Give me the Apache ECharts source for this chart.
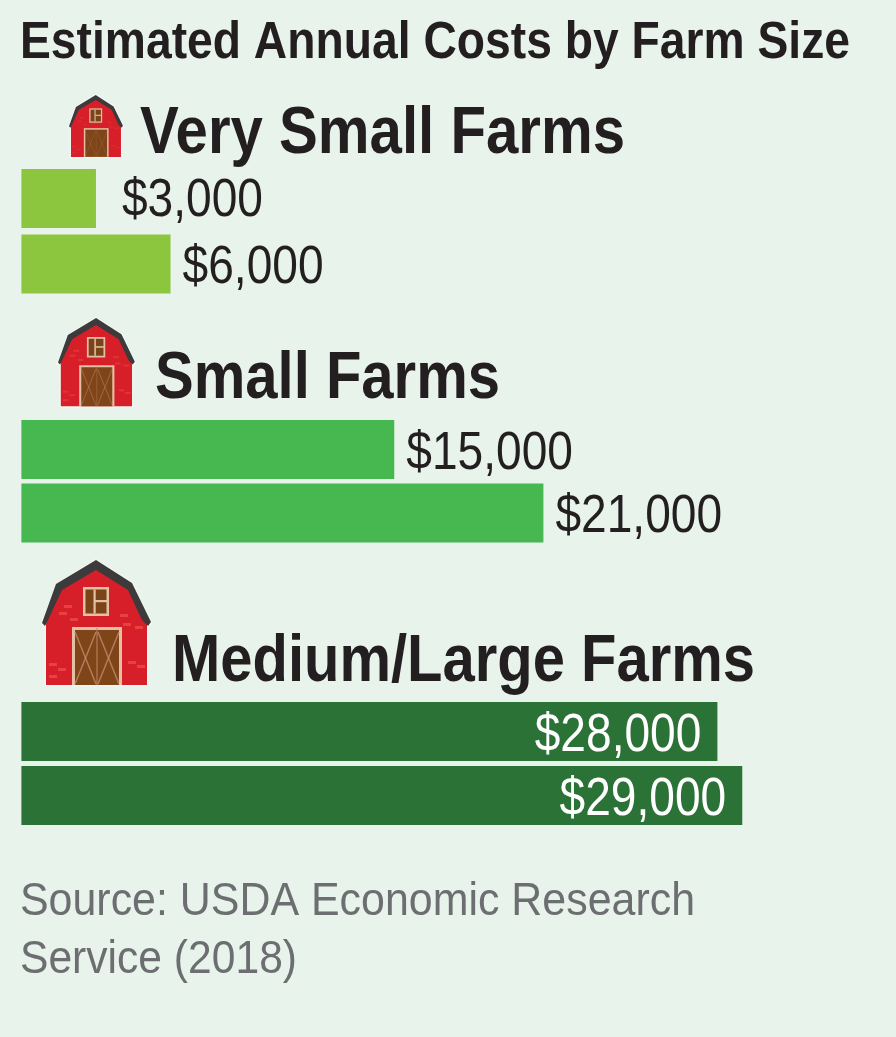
<!DOCTYPE html>
<html>
<head>
<meta charset="utf-8">
<style>html,body{margin:0;padding:0;background:#e8f3ec}#chart{width:896px;height:1037px}</style>
<script src="https://cdn.jsdelivr.net/npm/echarts@6/dist/echarts.min.js"></script>
</head>
<body>
<div id="chart"></div>
<script>
// Estimated annual cost ranges, one low/high pair per farm size
const farmSizes = ['Very Small Farms', 'Small Farms', 'Medium/Large Farms'];
const lowCosts = [3000, 15000, 28000];
const highCosts = [6000, 21000, 29000];
const barColors = ['#8cc63f', '#47b750', '#2b7236'];
const chartTitle = 'Estimated Annual Costs by Farm Size';
const sourceLines = ['Source: USDA Economic Research', 'Service (2018)'];

const FONT = '"Liberation Sans", Arial, sans-serif';
const INK = '#231f20';
const LABEL_SIZE = 53;
const LABEL_SQUEEZE = 0.87;
const money = v => '$' + v.toLocaleString('en-US');

// One plot per farm size: each bar sits centred in its own category band
const rows = [
  { top: 165.75, height: 131, inside: false },
  { top: 417.75, height: 127, inside: false },
  { top: 699.5, height: 128, inside: true }
];
const headings = [
  { x: 140, y: 135, width: 485 },
  { x: 155, y: 380, width: 345 },
  { x: 172, y: 663, width: 583 }
];
const barnPlacement = [
  { x: 69, y: 95, s: 0.495 },
  { x: 58, y: 318, s: 0.705 },
  { x: 42, y: 560, s: 1 }
];

const ruler = document.createElement('canvas').getContext('2d');
// Condensed type: a regular face squeezed sideways to fill the given width
function fittedText(text, x, y, width, size, weight, color) {
  ruler.font = weight + ' ' + size + 'px ' + FONT;
  const squeeze = width / ruler.measureText(text).width;
  return {
    type: 'text', x, y, scaleX: squeeze, silent: true, z: 10,
    style: { text, x: 0, y: 0, fill: color, font: weight + ' ' + size + 'px ' + FONT, textAlign: 'left', textVerticalAlign: 'middle' }
  };
}

// Barn icon drawn in a 109 x 125 box, then scaled into place
function barn(p) {
  const detail = p.s < 0.6 ? 0.25 : (p.s < 0.9 ? 0.45 : 0.8);
  const shape = (type, s, style) => ({ type, shape: s, style, silent: true });
  const poly = (points, fill) => shape('polygon', { points }, { fill });
  const line = (x1, y1, x2, y2, w) => shape('line', { x1, y1, x2, y2 }, { stroke: '#c08a6a', lineWidth: w, opacity: detail });
  const brick = (x, y) => shape('rect', { x, y, width: 8, height: 3 }, { fill: '#ee4a45', opacity: detail });
  const outline = [[0, 64], [15, 25], [54, 0], [90, 23], [109, 64], [105, 66], [105, 125], [4, 125], [4, 66]];
  const bricks = [[22, 45], [17, 52], [28, 58], [78, 54], [81, 63], [93, 66], [7, 103], [16, 108], [7, 115], [86, 101], [95, 105]];
  return {
    type: 'group', x: p.x, y: p.y, scaleX: p.s, scaleY: p.s, silent: true,
    children: [
      shape('polygon', { points: outline }, { fill: '#f3f8f5', stroke: '#f3f8f5', lineWidth: 2.5 / p.s, lineJoin: 'round' }),
      poly([[4, 60], [15, 28], [54, 6], [90, 28], [105, 60], [105, 125], [4, 125]], '#d71f2a'),
      poly([[0, 63], [14, 24], [54, 0], [90, 23], [109, 62], [106, 66], [100, 60], [86, 30], [54, 10], [20, 30], [6, 60], [3, 66]], '#3d3a3b'),
      ...bricks.map(b => brick(b[0], b[1])),
      shape('rect', { x: 41, y: 27, width: 26, height: 29 }, { fill: '#e3c0a4' }),
      shape('rect', { x: 43.5, y: 29.5, width: 21, height: 24 }, { fill: '#7a4418' }),
      shape('rect', { x: 51.5, y: 29.5, width: 2.2, height: 24 }, { fill: '#e3c0a4' }),
      shape('rect', { x: 53, y: 40, width: 12, height: 2.2 }, { fill: '#e3c0a4' }),
      shape('rect', { x: 30, y: 67, width: 50, height: 58 }, { fill: '#e3c0a4' }),
      shape('rect', { x: 33, y: 70, width: 44, height: 55 }, { fill: '#7f4519' }),
      line(33, 72, 54, 124, 1.5), line(54, 72, 33, 124, 1.5), line(56, 72, 77, 124, 1.5), line(77, 72, 56, 124, 1.5),
      line(55, 68, 55, 125, 1.2)
    ]
  };
}

const grids = rows.map(r => ({ left: 21.4, width: 870, top: r.top, height: r.height }));
const xAxes = rows.map((r, i) => ({ type: 'value', gridIndex: i, min: 0, max: 35000, show: false }));
const yAxes = rows.map((r, i) => ({
  type: 'category', gridIndex: i, inverse: true, show: false,
  data: [farmSizes[i] + ' low', farmSizes[i] + ' high']
}));

const barSeries = rows.map((r, i) => ({
  type: 'bar', name: farmSizes[i], xAxisIndex: i, yAxisIndex: i,
  barWidth: 59, silent: true,
  itemStyle: { color: barColors[i] },
  data: [lowCosts[i], highCosts[i]]
}));

// Value labels follow the bar ends through the axes and use the same squeezed type
const labelSeries = rows.map((r, i) => ({
  type: 'custom', xAxisIndex: i, yAxisIndex: i, silent: true, z: 5,
  encode: { x: 0, y: 1 },
  data: [[lowCosts[i], 0], [highCosts[i], 1]],
  renderItem: (params, api) => {
    const v = api.value(0);
    const end = api.coord([v, api.value(1)]);
    // the narrowest bar carries its label further out
    const narrow = v < 5000;
    const dx = r.inside ? -16 : (narrow ? 26 : 12);
    const dy = narrow ? 3 : 4.5;
    return {
      type: 'text', x: end[0] + dx, y: end[1] + dy, scaleX: LABEL_SQUEEZE, silent: true,
      style: {
        text: money(v), x: 0, y: 0, fill: r.inside ? '#ffffff' : INK,
        font: 'normal ' + LABEL_SIZE + 'px ' + FONT,
        textAlign: r.inside ? 'right' : 'left', textVerticalAlign: 'middle'
      }
    };
  }
}));

const chart = echarts.init(document.getElementById('chart'));
chart.setOption({
  backgroundColor: '#e8f3ec',
  animation: false,
  grid: grids, xAxis: xAxes, yAxis: yAxes,
  series: [...barSeries, ...labelSeries],
  graphic: [
    fittedText(chartTitle, 20, 44, 830, 51, 'bold', INK),
    ...farmSizes.map((name, i) => fittedText(name, headings[i].x, headings[i].y, headings[i].width, 67, 'bold', INK)),
    fittedText(sourceLines[0], 20, 902, 675, 46, 'normal', '#6d6e71'),
    fittedText(sourceLines[1], 20, 960, 277, 46, 'normal', '#6d6e71'),
    ...barnPlacement.map(barn)
  ]
});
</script>
</body>
</html>
